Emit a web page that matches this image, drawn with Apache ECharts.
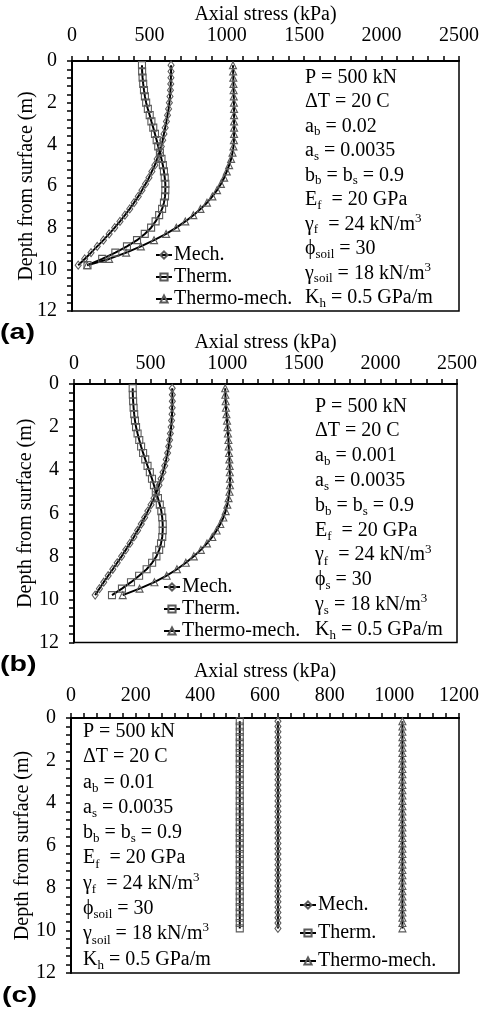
<!DOCTYPE html>
<html>
<head>
<meta charset="utf-8">
<script src="https://cdn.jsdelivr.net/npm/echarts@6/dist/echarts.min.js"></script>
<style>
  html, body { margin: 0; padding: 0; background: #fff; }
  #chart { width: 482px; height: 1009px; }
</style>
</head>
<body>
<div id="chart"></div>
<script>
// Depth below the surface (m) for the computed stress profiles
const depthAB = [0.2, 0.5, 0.8, 1.1, 1.4, 1.7, 2.0, 2.3, 2.6, 2.9, 3.2, 3.5, 3.8, 4.1, 4.4, 4.7, 5.0,
                 5.3, 5.6, 5.9, 6.2, 6.5, 6.8, 7.1, 7.4, 7.7, 8.0, 8.3, 8.6, 8.9, 9.2, 9.5, 9.8];
const depthC = [0.15, 0.4, 0.65, 0.9, 1.15, 1.4, 1.65, 1.9, 2.15, 2.4, 2.65, 2.9, 3.15, 3.4, 3.65, 3.9,
                4.15, 4.4, 4.65, 4.9, 5.15, 5.4, 5.65, 5.9, 6.15, 6.4, 6.65, 6.9, 7.15, 7.4, 7.65, 7.9,
                8.15, 8.4, 8.65, 8.9, 9.15, 9.4, 9.65, 9.9];

// (a) a_b = 0.02 — axial stress (kPa)
const mechA = [640, 640, 639, 638, 636, 633, 629, 624, 617, 610, 602, 594, 586, 577, 565, 550, 535,
               516, 497, 475, 452, 428, 401, 373, 342, 310, 276, 240, 203, 163, 123, 82, 40];
const thermA = [452, 453, 456, 460, 465, 471, 479, 490, 502, 513, 525, 536, 547, 557, 568, 578, 587,
                594, 599, 603, 603, 601, 594, 582, 563, 540, 511, 470, 420, 355, 280, 195, 100];
const thermoMechA = [1040, 1041, 1042, 1043, 1044, 1045, 1046, 1047, 1047, 1047, 1047, 1047, 1046, 1043, 1037, 1028, 1015,
                     1000, 983, 962, 937, 907, 872, 830, 784, 732, 674, 608, 530, 445, 350, 240, 98];

// (b) a_b = 0.001
const mechB = [641, 642, 642, 641, 640, 637, 634, 629, 624, 618, 611, 602, 592, 581, 568, 555, 540,
               522, 503, 482, 461, 439, 415, 391, 365, 338, 311, 282, 253, 223, 194, 166, 138];
const thermB = [383, 384, 386, 389, 393, 398, 405, 415, 426, 438, 451, 465, 480, 495, 509, 522, 534,
                548, 560, 570, 576, 579, 579, 576, 568, 556, 538, 510, 474, 425, 372, 313, 248];
const thermoMechB = [987, 988, 990, 992, 995, 999, 1002, 1005, 1008, 1010, 1012, 1014, 1016, 1017, 1018, 1018, 1015,
                     1009, 1001, 990, 975, 955, 931, 903, 868, 828, 782, 730, 672, 605, 525, 428, 318];

// (c) a_b = 0.01
const mechC = [640, 640, 640, 640, 640, 640, 640, 640, 640, 640, 640, 640, 640, 640, 640, 640, 640, 640, 640, 640,
               640, 640, 640, 640, 640, 640, 640, 640, 640, 640, 640, 640, 640, 640, 640, 640, 640, 640, 640, 640];
const thermC = [522, 522, 522, 522, 522, 522, 522, 522, 522, 522, 522, 522, 522, 522, 522, 522, 522, 522, 522, 522,
                522, 522, 522, 522, 522, 522, 522, 522, 522, 522, 522, 522, 522, 522, 522, 522, 522, 522, 522, 522];
const thermoMechC = [1025, 1025, 1025, 1025, 1025, 1025, 1025, 1025, 1025, 1025, 1025, 1025, 1025, 1025, 1025, 1025, 1025, 1025, 1025, 1025,
                     1025, 1025, 1025, 1025, 1025, 1025, 1025, 1025, 1025, 1025, 1025, 1025, 1025, 1025, 1025, 1025, 1025, 1025, 1025, 1025];

const seriesNames = ['Mech.', 'Therm.', 'Thermo-mech.'];
const panelTags = ['(a)', '(b)', '(c)'];
const xTitle = 'Axial stress (kPa)';
const yTitle = 'Depth from surface (m)';

// Input parameters listed in each panel (rich-text markup for sub/superscripts)
const paramsA = ['P = 500 kN', 'ΔT = 20 C', 'a{sub|b} = 0.02', 'a{sub|s} = 0.0035', 'b{sub|b} = b{sub|s} = 0.9',
                 'E{sub|f}  = 20 GPa', 'γ{sub|f}  = 24 kN/m{sup|3}', 'ϕ{sub|soil} = 30', 'γ{sub|soil} = 18 kN/m{sup|3}', 'K{sub|h} = 0.5 GPa/m'];
const paramsB = ['P = 500 kN', 'ΔT = 20 C', 'a{sub|b} = 0.001', 'a{sub|s} = 0.0035', 'b{sub|b} = b{sub|s} = 0.9',
                 'E{sub|f}  = 20 GPa', 'γ{sub|f}  = 24 kN/m{sup|3}', 'ϕ{sub|s} = 30', 'γ{sub|s} = 18 kN/m{sup|3}', 'K{sub|h} = 0.5 GPa/m'];
const paramsC = ['P = 500 kN', 'ΔT = 20 C', 'a{sub|b} = 0.01', 'a{sub|s} = 0.0035', 'b{sub|b} = b{sub|s} = 0.9',
                 'E{sub|f}  = 20 GPa', 'γ{sub|f}  = 24 kN/m{sup|3}', 'ϕ{sub|soil} = 30', 'γ{sub|soil} = 18 kN/m{sup|3}', 'K{sub|h} = 0.5 GPa/m'];

const SERIF = 'Liberation Serif, Times New Roman, serif';
const chart = echarts.init(document.getElementById('chart'), null, { renderer: 'canvas' });

const panels = [
  { grid: { left: 72, top: 61, width: 390, height: 250 }, xMax: 2500, xInt: 500, labelGap: 15, nameGap: 36, yNameGap: 35,
    depth: depthAB, data: [mechA, thermA, thermoMechA], params: paramsA, paramPos: [305, 65], lh: 24.5,
    legend: { left: 155, top: 245, gap: 2 }, tag: [0, 322] },
  { grid: { left: 74, top: 384, width: 383, height: 258.5 }, xMax: 2500, xInt: 500, labelGap: 10, nameGap: 31, yNameGap: 38,
    depth: depthAB, data: [mechB, thermB, thermoMechB], params: paramsB, paramPos: [315, 394], lh: 24.8,
    legend: { left: 163, top: 577, gap: 2 }, tag: [0, 654] },
  { grid: { left: 71, top: 718, width: 391, height: 255 }, xMax: 1200, xInt: 200, labelGap: 12, nameGap: 36, yNameGap: 38,
    depth: depthC, data: [mechC, thermC, thermoMechC], params: paramsC, paramPos: [83, 719], lh: 25.3,
    legend: { left: 299, top: 895, gap: 8 }, tag: [2, 985] }
];

const markerStyles = [
  { symbol: 'diamond', symbolSize: [6, 8] },
  { symbol: 'rect', symbolSize: [7, 7] },
  { symbol: 'triangle', symbolSize: [7, 7] }
];

const grids = [], xAxes = [], yAxes = [], series = [], legends = [], graphics = [];

panels.forEach((p, i) => {
  grids.push(Object.assign({ show: true, borderColor: '#000', borderWidth: 1.5, backgroundColor: '#fff' }, p.grid));
  xAxes.push({
    gridIndex: i, type: 'value', position: 'top', min: 0, max: p.xMax, interval: p.xInt,
    name: xTitle, nameLocation: 'middle', nameGap: p.nameGap, nameMoveOverlap: false,
    nameTextStyle: { fontFamily: SERIF, fontSize: 20, color: '#000' },
    axisLine: { show: true, lineStyle: { color: '#000', width: 2 } },
    axisTick: { show: true, inside: false, length: 5, lineStyle: { color: '#000', width: 1.5 } },
    minorTick: { show: true, splitNumber: 5, length: 5, lineStyle: { color: '#000', width: 1.5 } },
    axisLabel: { fontFamily: SERIF, fontSize: 20, color: '#000', margin: p.labelGap, formatter: v => String(v) },
    splitLine: { show: false }
  });
  yAxes.push({
    gridIndex: i, type: 'value', inverse: true, min: 0, max: 12, interval: 2,
    name: yTitle, nameLocation: 'middle', nameGap: p.yNameGap, nameRotate: 90, nameMoveOverlap: false,
    nameTextStyle: { fontFamily: SERIF, fontSize: 20, color: '#000' },
    axisLine: { show: true, lineStyle: { color: '#000', width: 2 } },
    axisTick: { show: true, inside: false, length: 5, lineStyle: { color: '#000', width: 1.5 } },
    minorTick: { show: true, splitNumber: 5, length: 5, lineStyle: { color: '#000', width: 1.5 } },
    axisLabel: { fontFamily: SERIF, fontSize: 20, color: '#000', margin: 15, formatter: v => String(v) },
    splitLine: { show: false }
  });
  p.data.forEach((vals, k) => {
    series.push({
      name: seriesNames[k], type: 'line', xAxisIndex: i, yAxisIndex: i,
      data: vals.map((v, j) => [v, p.depth[j]]),
      smooth: false, showSymbol: true, showAllSymbol: true,
      symbol: markerStyles[k].symbol, symbolSize: markerStyles[k].symbolSize,
      lineStyle: { color: '#000', width: 2 },
      itemStyle: { color: 'rgba(255,255,255,0)', borderColor: '#5a5a5a', borderWidth: 1.1 },
      emphasis: { disabled: true }, animation: false
    });
  });
  legends.push({
    left: p.legend.left, top: p.legend.top, orient: 'vertical', padding: 0,
    itemGap: p.legend.gap, itemWidth: 16, itemHeight: 9, selectedMode: false,
    data: seriesNames,
    textStyle: { fontFamily: SERIF, fontSize: 20, color: '#000', lineHeight: 20, padding: [0, 0, 0, -3] }
  });
  graphics.push({
    type: 'text', left: p.paramPos[0], top: p.paramPos[1], z: 10,
    style: {
      text: p.params.join('\n'),
      fontFamily: SERIF, fontSize: 20, lineHeight: p.lh, fill: '#000',
      rich: {
        sub: { fontFamily: SERIF, fontSize: 13, lineHeight: p.lh, verticalAlign: 'bottom', fill: '#000' },
        sup: { fontFamily: SERIF, fontSize: 13, lineHeight: p.lh, verticalAlign: 'top', fill: '#000' }
      }
    }
  });
  graphics.push({
    type: 'text', left: p.tag[0], top: p.tag[1], z: 10, scaleX: 1.3,
    style: { text: panelTags[i], fontFamily: 'Liberation Sans, Arial, sans-serif', fontWeight: 'bold', fontSize: 22, fill: '#000' }
  });
});

chart.setOption({
  animation: false,
  backgroundColor: '#fff',
  grid: grids, xAxis: xAxes, yAxis: yAxes,
  legend: legends, series: series, graphic: graphics
});
</script>
</body>
</html>
